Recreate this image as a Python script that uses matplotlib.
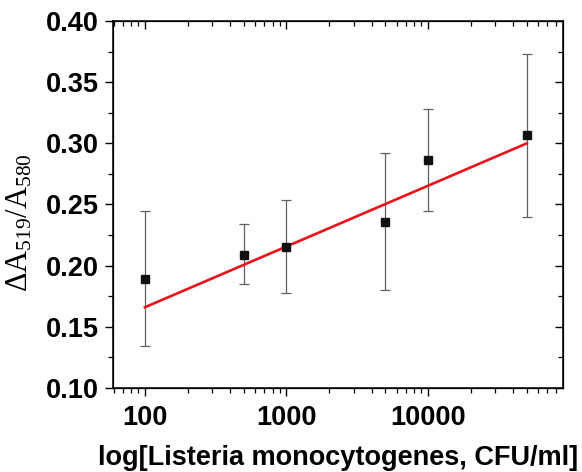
import matplotlib
matplotlib.use("Agg")
import matplotlib.pyplot as plt
from matplotlib.ticker import FixedLocator, LogLocator, NullFormatter, MultipleLocator
import numpy as np

# Data
conc = [100, 500, 1000, 5000, 10000, 50000]
ratio = [0.189, 0.209, 0.215, 0.236, 0.286, 0.307]
err_low = [0.134, 0.185, 0.178, 0.180, 0.245, 0.240]
err_high = [0.245, 0.234, 0.254, 0.292, 0.328, 0.373]
fit_x = [100, 50000]
fit_y = [0.166, 0.300]
xticks = [100, 1000, 10000]
xtick_labels = ["100", "1000", "10000"]
yticks = [0.10, 0.15, 0.20, 0.25, 0.30, 0.35, 0.40]

plt.rcParams['font.family'] = ['Liberation Sans', 'DejaVu Sans']
plt.rcParams['mathtext.fontset'] = 'custom'
plt.rcParams['mathtext.rm'] = 'Liberation Serif'
plt.rcParams['mathtext.it'] = 'Liberation Serif'

fig = plt.figure(figsize=(5.82, 4.72), dpi=100)
ax = fig.add_axes([0.194, 0.178, 0.773, 0.7775])

ratio_a = np.array(ratio)
yerr = [ratio_a - np.array(err_low), np.array(err_high) - ratio_a]
ax.errorbar(conc, ratio, yerr=yerr, fmt='none', ecolor='#606060', elinewidth=0.9,
            capsize=3.3, capthick=0.9, zorder=2)
ax.plot(fit_x, fit_y, color='#e8141c', lw=1.9, zorder=3)
ax.plot(conc, ratio, 's', color='#111111', markersize=6, zorder=4)

ax.set_xscale('log')
ax.set_xlim(59.4, 89800)
ax.set_ylim(0.10, 0.40)
ax.xaxis.set_major_locator(FixedLocator(xticks))
ax.set_xticklabels(xtick_labels)
ax.xaxis.set_minor_locator(LogLocator(base=10, subs=np.arange(2, 10)))
ax.xaxis.set_minor_formatter(NullFormatter())
ax.set_yticks(yticks)
ax.set_yticklabels([f"{v:.2f}" for v in yticks])
ax.yaxis.set_minor_locator(MultipleLocator(0.025))

for lab in ax.get_xticklabels() + ax.get_yticklabels():
    lab.set_fontweight('bold')
    lab.set_fontsize(19.5)

ax.tick_params(which='major', direction='out', length=6, width=1.0, color='black')
ax.tick_params(which='minor', direction='out', length=3.5, width=0.9)
ax.tick_params(axis='y', which='major', pad=4)
ax.tick_params(axis='x', which='major', pad=6)
for s in ax.spines.values():
    s.set_linewidth(1.1)

# mirrored ticks on top and right pointing inward
axt = ax.twiny()
axt.set_xscale('log')
axt.set_xlim(ax.get_xlim())
axt.xaxis.set_major_locator(FixedLocator(xticks))
axt.xaxis.set_minor_locator(LogLocator(base=10, subs=np.arange(2, 10)))
axt.xaxis.set_major_formatter(NullFormatter())
axt.xaxis.set_minor_formatter(NullFormatter())
axt.tick_params(which='major', direction='in', length=6, width=1.0)
axt.tick_params(which='minor', direction='in', length=3.5, width=0.9)

axr = ax.twinx()
axr.set_ylim(ax.get_ylim())
axr.set_yticks(yticks)
axr.yaxis.set_minor_locator(MultipleLocator(0.025))
axr.yaxis.set_major_formatter(NullFormatter())
axr.tick_params(which='major', direction='in', length=6, width=1.0)
axr.tick_params(which='minor', direction='in', length=3.5, width=0.9)

ax.set_xlabel("log[Listeria monocytogenes, CFU/ml]", fontsize=19.5, fontweight='bold', labelpad=10)
ax.set_ylabel(r"$\Delta$A$_{519}$/A$_{580}$", fontsize=22,
              family=['Liberation Serif', 'DejaVu Serif'])
ax.yaxis.set_label_coords(-0.175, 0.45)

fig.savefig("out.png", dpi=100)
